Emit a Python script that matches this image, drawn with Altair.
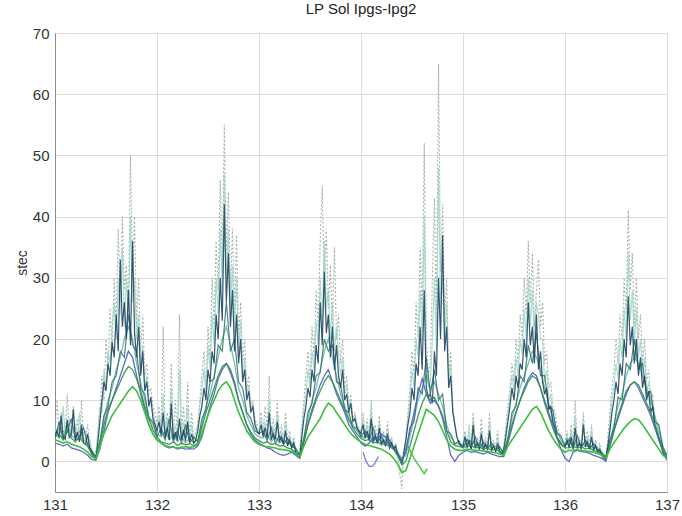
import altair as alt
import numpy as np
import pandas as pd

# Sampling times (day of year): fine series every 0.02 d, coarse series every 0.04 d
t_fine = np.round(131 + 0.02 * np.arange(301), 2)
t_coarse = np.round(131 + 0.04 * np.arange(151), 2)

# Grey dotted receiver (spiky, highest peaks), 0.02 d steps
stec_grey = [
    5.0, 10.0, 4.5, 8.0, 5.0, 4.0, 11.0, 4.5, 5.0, 9.0, 4.0, 7.0, 3.5, 10.0, 3.5, 4.0, 6.0, 3.0, 2.0, 1.0,
    1.0, 4.0, 8.0, 14.0, 10.0, 20.0, 15.0, 25.0, 18.0, 30.0,
    22.0, 38.0, 26.0, 40.0, 28.0, 32.0, 24.0, 50.0, 30.0, 40.0,
    22.0, 30.0, 18.0, 24.0, 14.0, 16.0, 11.0, 12.0, 9.0, 8.0,
    6.0, 9.0, 5.0, 22.0, 5.0, 8.0, 4.5, 16.0, 4.0, 10.0, 4.0, 24.0, 4.5, 9.0, 4.0, 13.0, 3.5, 8.0, 3.5, 5.0,
    6.0, 10.0, 14.0, 18.0, 12.0, 22.0, 16.0, 30.0, 22.0, 36.0,
    28.0, 46.0, 32.0, 55.0, 34.0, 44.0, 28.0, 38.0, 24.0, 37.0,
    20.0, 26.0, 16.0, 20.0, 12.0, 14.0, 9.0, 10.0, 7.0, 6.0,
    6.0, 8.0, 5.0, 9.0, 5.0, 14.0, 4.0, 7.0, 4.0, 10.0, 3.5, 6.0, 3.5, 8.0, 3.0, 5.0, 2.5, 4.0, 2.0, 1.0,
    2.0, 6.0, 10.0, 14.0, 18.0, 13.0, 22.0, 17.0, 28.0, 22.0,
    36.0, 45.0, 30.0, 38.0, 25.0, 32.0, 22.0, 35.0, 20.0, 24.0,
    16.0, 20.0, 12.0, 14.0, 9.0, 11.0, 7.0, 8.0, 6.0, 5.5,
    5.0, 8.0, 4.5, 7.0, 4.0, 10.0, 3.5, 6.0, 3.5, 7.5, 3.0, 5.0, 3.0, 6.5, 2.5, 4.0, 2.0, 3.0, 0.5, -2.0,
    -4.5, 1.0, 4.0, 8.0, 12.0, 18.0, 14.0, 26.0, 20.0, 35.0,
    24.0, 52.0, 20.0, 14.0, 16.0, 30.0, 43.0, 22.0, 65.0, 31.0,
    42.0, 24.0, 30.0, 14.0, 18.0, 9.0, 6.0, 4.0, 3.0, 2.5,
    3.0, 5.0, 2.5, 6.0, 2.5, 8.0, 2.5, 4.0, 2.5, 7.0, 2.2, 4.0, 2.5, 8.0, 2.0, 3.5, 2.0, 5.0, 1.8, 1.5,
    2.5, 6.0, 9.0, 12.0, 16.0, 13.0, 20.0, 16.0, 24.0, 20.0,
    30.0, 24.0, 36.0, 26.0, 34.0, 22.0, 28.0, 33.0, 22.0, 26.0,
    16.0, 18.0, 12.0, 13.0, 9.0, 8.0, 6.0, 5.0, 4.0, 3.0,
    3.0, 5.0, 2.5, 6.0, 2.5, 10.0, 2.5, 4.0, 2.5, 8.0, 3.0, 5.0, 2.5, 6.0, 2.0, 3.5, 2.0, 3.0, 1.2, 0.6,
    0.5, 4.0, 8.0, 12.0, 15.0, 20.0, 16.0, 24.0, 20.0, 30.0,
    24.0, 41.0, 28.0, 34.0, 22.0, 30.0, 20.0, 24.0, 16.0, 20.0,
    13.0, 15.0, 10.0, 11.0, 7.0, 6.0, 4.0, 3.5, 2.0, 1.0,
    0.8,
]

# Mint receiver, 0.02 d steps
stec_mint = [
    5.5, 4.0, 6.5, 4.5, 9.0, 4.2, 5.0, 7.0, 3.8, 5.5, 6.0, 3.5, 8.0, 3.6, 4.5, 5.0, 2.8, 3.5, 1.8, 1.0,
    1.2, 5.0, 9.0, 8.0, 15.0, 12.0, 18.0, 16.0, 22.0, 26.0,
    20.0, 30.0, 24.0, 35.0, 22.0, 30.0, 24.0, 40.0, 26.0, 30.0,
    20.0, 24.0, 15.0, 19.0, 12.0, 14.0, 10.0, 9.0, 8.0, 6.5,
    5.5, 7.5, 4.8, 11.0, 4.5, 7.0, 4.0, 12.0, 4.2, 6.0, 3.8, 15.0, 4.0, 6.5, 3.8, 9.0, 3.5, 6.0, 3.5, 4.5,
    6.0, 9.0, 12.0, 15.0, 11.0, 19.0, 15.0, 24.0, 19.0, 30.0,
    24.0, 38.0, 28.0, 47.0, 30.0, 38.0, 25.0, 32.0, 21.0, 30.0,
    18.0, 23.0, 14.0, 17.0, 11.0, 12.5, 8.5, 9.5, 6.5, 5.5,
    5.0, 7.0, 4.5, 6.5, 4.2, 10.0, 3.8, 5.5, 3.8, 8.0, 3.5, 5.0, 3.0, 6.5, 2.8, 4.0, 2.4, 3.5, 1.8, 1.0,
    1.5, 5.0, 8.5, 11.0, 15.0, 12.0, 18.0, 15.0, 23.0, 19.0,
    30.0, 22.0, 36.0, 25.0, 28.0, 20.0, 26.0, 18.0, 22.0, 17.0,
    14.0, 17.0, 11.0, 12.5, 8.5, 10.0, 7.0, 7.5, 6.0, 5.2,
    4.8, 7.0, 4.2, 6.0, 3.8, 8.5, 3.4, 5.0, 3.2, 6.5, 3.0, 4.2, 2.8, 5.5, 2.4, 3.5, 2.2, 2.8, 0.8, -1.0,
    -2.0, 1.2, 3.8, 7.0, 10.0, 15.0, 12.0, 20.0, 17.0, 28.0,
    20.0, 40.0, 16.0, 12.0, 13.0, 20.0, 30.0, 18.0, 48.0, 25.0,
    30.0, 20.0, 26.0, 13.0, 16.0, 8.5, 6.0, 4.0, 3.0, 2.5,
    2.8, 4.5, 2.4, 4.8, 2.2, 7.0, 2.4, 3.5, 2.2, 5.5, 2.0, 3.4, 2.2, 6.5, 1.9, 3.0, 1.8, 4.0, 1.6, 1.4,
    2.2, 5.0, 7.5, 10.5, 14.0, 11.5, 17.0, 14.0, 20.0, 17.5,
    25.0, 20.0, 30.0, 22.0, 28.0, 19.0, 26.0, 24.0, 20.0, 20.0,
    13.0, 15.0, 10.0, 11.0, 7.5, 6.5, 5.0, 4.2, 3.5, 2.8,
    2.8, 4.2, 2.4, 5.0, 2.2, 7.5, 2.4, 3.5, 2.2, 7.0, 2.6, 4.0, 2.2, 5.0, 1.9, 3.0, 1.8, 2.5, 1.1, 0.6,
    0.4, 3.0, 6.5, 10.0, 12.5, 16.0, 13.5, 20.0, 17.0, 25.0,
    20.0, 34.0, 23.0, 28.0, 19.0, 25.0, 17.0, 20.0, 14.0, 17.0,
    11.5, 13.0, 9.0, 10.0, 6.5, 5.5, 3.8, 3.2, 1.8, 0.9,
    0.6,
]

# Dark navy receiver, 0.02 d steps
stec_navy = [
    4.2, 5.0, 3.8, 7.5, 4.0, 3.6, 6.8, 3.9, 4.4, 8.5, 3.5, 4.8, 3.2, 6.0, 3.0, 2.8, 4.5, 2.2, 1.5, 0.8,
    0.5, 3.0, 6.5, 10.0, 13.0, 11.5, 16.0, 14.0, 19.5, 17.0,
    24.0, 18.0, 33.0, 22.0, 26.0, 20.0, 28.0, 19.0, 36.0, 21.0,
    17.0, 22.0, 14.0, 18.0, 11.5, 13.0, 9.0, 10.5, 7.0, 6.0,
    5.0, 6.5, 4.2, 8.0, 3.8, 5.5, 3.5, 9.5, 3.6, 4.8, 3.4, 7.0, 3.5, 5.2, 3.3, 6.5, 3.2, 4.5, 3.0, 3.5,
    5.0, 7.5, 9.0, 12.0, 10.0, 15.0, 13.0, 18.0, 16.0, 24.0,
    20.0, 30.0, 23.0, 42.0, 26.0, 34.0, 22.0, 28.0, 18.0, 24.0,
    16.0, 20.0, 13.0, 15.0, 10.0, 11.5, 8.0, 9.0, 6.0, 5.0,
    4.5, 6.0, 4.0, 5.5, 3.8, 8.0, 3.5, 4.5, 3.6, 6.5, 3.2, 4.0, 2.8, 5.0, 2.5, 3.5, 2.2, 3.0, 1.5, 0.8,
    1.0, 4.0, 7.0, 9.0, 12.0, 10.5, 15.0, 13.0, 19.0, 16.0,
    26.0, 19.0, 31.0, 21.0, 24.0, 17.0, 22.0, 15.0, 19.0, 14.0,
    12.0, 15.0, 10.0, 11.0, 8.0, 9.5, 6.5, 7.0, 5.5, 5.0,
    4.5, 6.0, 3.8, 5.0, 3.5, 7.0, 3.2, 4.2, 3.0, 5.5, 2.8, 3.5, 2.5, 4.5, 2.2, 3.0, 2.0, 2.5, 1.2, 0.5,
    -0.5, 1.5, 3.5, 6.0, 8.0, 12.0, 10.0, 16.0, 14.0, 22.0,
    15.0, 28.0, 12.0, 10.5, 11.0, 9.5, 18.0, 14.0, 30.0, 20.0,
    37.0, 18.0, 22.0, 12.0, 14.0, 8.0, 6.0, 4.0, 3.0, 2.5,
    2.5, 4.0, 2.2, 3.5, 2.0, 6.0, 2.2, 3.0, 2.0, 4.5, 1.8, 2.8, 2.0, 5.0, 1.8, 2.5, 1.6, 3.0, 1.5, 1.2,
    2.0, 4.0, 6.5, 9.0, 12.0, 10.0, 14.0, 12.0, 16.0, 15.0,
    20.0, 17.0, 26.0, 19.0, 22.0, 16.0, 24.0, 15.0, 18.0, 13.0,
    11.0, 12.0, 8.5, 9.0, 6.5, 5.5, 4.0, 3.5, 3.0, 2.5,
    2.5, 3.5, 2.2, 4.0, 2.0, 5.5, 2.2, 3.0, 2.0, 6.0, 2.4, 3.2, 2.0, 4.0, 1.8, 2.6, 1.5, 2.0, 1.0, 0.5,
    0.3, 2.5, 5.0, 8.0, 10.0, 13.0, 11.0, 16.0, 14.0, 20.0,
    17.0, 27.0, 19.0, 22.0, 16.0, 20.0, 14.0, 17.0, 12.0, 14.0,
    10.0, 11.5, 8.0, 9.0, 6.0, 5.0, 3.5, 3.0, 1.5, 0.8,
    0.5,
]

# Teal receiver, 0.04 d steps
stec_teal = [
    4.5, 5.5, 4.0, 6.0, 4.2, 3.8, 5.0, 3.5, 3.0, 1.5, 0.8,
    3.5, 7.0, 10.0, 12.0, 15.0, 17.0, 20.0, 22.0, 20.0,
    16.0, 13.0, 10.0, 7.5, 6.0, 4.5,
    4.0, 5.0, 3.5, 4.5, 3.2, 4.0, 3.0, 3.8, 3.0, 3.5,
    6.0, 9.0, 11.0, 14.0, 17.0, 20.0, 22.0,
    19.0, 16.0, 12.0, 10.0, 7.5, 6.0, 4.5, 4.0,
    3.8, 4.5, 3.2, 4.0, 3.0, 3.5, 2.8, 3.0, 2.0, 1.0,
    4.0, 7.0, 10.0, 12.0, 15.0, 18.0, 20.0,
    17.0, 14.0, 11.0, 9.0, 7.0, 6.0, 5.0, 4.2,
    3.8, 4.5, 3.2, 4.0, 3.0, 3.5, 2.8, 2.5, 1.5, 0.5,
    1.0, 4.0, 7.0, 10.0, 12.0, 14.0,
    12.0, 13.0, 11.0, 9.0, 6.0, 4.0, 3.0, 2.8, 2.5,
    2.8, 3.5, 2.5, 3.0, 2.4, 2.8, 2.2, 2.5, 2.0, 1.5,
    4.0, 7.0, 9.5, 12.0, 14.0, 16.0, 18.0, 17.0,
    15.0, 12.0, 9.5, 7.0, 5.0, 3.5, 2.8,
    2.8, 3.2, 2.5, 3.0, 2.4, 2.6, 2.2, 2.0, 1.5, 0.8,
    3.0, 6.0, 9.0, 11.0, 14.0, 16.0, 17.0,
    16.0, 14.0, 12.0, 10.0, 7.5, 5.0, 2.5, 1.0,
]

# Dark teal receiver, 0.04 d steps
stec_teal_dark = [
    3.8, 6.5, 3.6, 4.8, 7.0, 3.5, 3.8, 5.5, 2.6, 1.8, 0.6,
    2.8, 7.5, 9.0, 13.0, 14.0, 18.0, 17.0, 24.0, 19.0,
    18.0, 12.0, 11.0, 7.0, 6.5, 4.0,
    5.5, 3.5, 7.0, 3.2, 5.0, 3.0, 6.0, 3.0, 4.0, 3.2,
    7.0, 8.5, 13.0, 13.5, 19.0, 18.0, 26.0,
    18.0, 20.0, 13.0, 12.0, 8.0, 7.0, 5.0, 4.5,
    5.0, 3.4, 5.5, 3.0, 4.2, 2.8, 3.8, 2.4, 2.2, 0.8,
    3.5, 8.0, 9.5, 14.0, 14.5, 20.0, 18.0,
    19.0, 13.0, 12.5, 8.5, 8.0, 5.5, 5.5, 4.0,
    5.0, 3.4, 5.5, 3.0, 4.2, 2.6, 3.5, 2.2, 1.2, 0.2,
    1.5, 5.5, 6.5, 12.0, 11.0, 17.0,
    11.0, 15.0, 10.0, 11.0, 5.0, 4.5, 2.8, 3.4, 2.2,
    3.6, 2.2, 4.0, 2.0, 3.2, 2.0, 3.0, 1.8, 2.4, 1.2,
    3.5, 8.0, 9.0, 14.0, 13.0, 19.0, 16.0, 21.0,
    14.0, 14.0, 9.0, 8.5, 4.5, 4.2, 2.4,
    3.6, 2.2, 4.2, 2.2, 3.5, 2.0, 3.0, 1.8, 1.4, 0.6,
    3.5, 5.5, 10.5, 10.0, 16.0, 15.0, 20.0,
    15.0, 16.0, 11.0, 11.5, 6.5, 6.0, 2.2, 1.0,
]

# Blue receiver, 0.04 d steps
stec_blue = [
    3.0, 2.8, 2.5, 2.8, 2.2, 2.0, 1.8, 1.5, 1.0, 0.3, 0.2,
    2.0, 5.0, 8.0, 10.0, 12.0, 14.0, 16.0, 18.0, 17.0,
    14.0, 11.0, 8.5, 6.0, 4.5, 3.5,
    3.0, 2.5, 2.2, 2.4, 2.0, 2.2, 2.0, 2.1, 2.0, 2.5,
    4.0, 6.5, 9.0, 11.0, 13.5, 15.0, 16.0,
    15.0, 13.0, 10.0, 8.0, 6.0, 4.5, 3.5, 3.0,
    2.6, 2.2, 2.0, 1.5, 1.2, 1.0, 1.2, 1.5, 1.0, 0.5,
    3.0, 6.0, 8.5, 10.5, 12.5, 14.0, 15.0,
    13.0, 11.0, 9.5, 8.0, 6.0, 5.0, 4.0, 3.0,
    2.5, 3.0, 4.0, 3.5, 4.5, 4.0, 3.0, 2.0, 1.0, 0.0,
    2.0, 5.0, 8.0, 11.0, 13.5, 11.0,
    9.5, 10.0, 9.0, 7.0, 4.0, 1.0, 0.0, 1.0, 1.5,
    1.8, 1.5, 1.6, 1.4, 1.2, 1.5, 1.2, 1.0, 0.8, 0.8,
    3.0, 5.5, 8.0, 10.0, 12.0, 13.5, 14.5, 14.0,
    12.0, 10.0, 8.0, 6.0, 4.0, 2.0, 0.5,
    0.0, 1.5, 1.8, 1.6, 1.5, 1.3, 1.0, 0.8, 0.5, 0.0,
    2.5, 5.0, 7.0, 9.0, 11.0, 12.5, 13.0,
    12.0, 10.5, 9.0, 7.5, 5.5, 3.5, 1.5, 0.2,
]

# Dark green receiver, 0.04 d steps
stec_green_dark = [
    4.0, 4.5, 3.5, 5.0, 3.8, 3.2, 4.0, 3.0, 2.5, 1.2, 0.6,
    3.0, 6.0, 8.5, 10.0, 11.5, 13.0, 14.5, 15.5, 15.0,
    13.5, 11.5, 9.0, 7.0, 5.2, 4.0,
    3.2, 3.0, 2.8, 3.2, 2.6, 3.0, 2.7, 2.9, 2.6, 3.0,
    5.5, 8.0, 10.0, 12.0, 14.0, 15.5, 16.0,
    14.5, 12.5, 10.0, 8.0, 6.0, 4.8, 3.8, 3.4,
    3.0, 3.2, 2.8, 2.9, 2.5, 2.6, 2.2, 2.0, 1.4, 0.8,
    3.5, 6.0, 8.0, 10.0, 11.5, 13.0, 14.0,
    13.0, 11.5, 10.0, 8.5, 6.8, 5.5, 4.5, 3.8,
    3.4, 3.6, 3.0, 3.2, 2.8, 2.9, 2.4, 2.0, 1.0, -0.5,
    0.0, 2.5, 5.0, 7.5, 9.5, 11.0,
    10.0, 10.5, 9.0, 7.5, 5.0, 3.2, 2.6, 2.4, 2.3,
    2.4, 2.6, 2.2, 2.4, 2.0, 2.2, 1.8, 2.0, 1.6, 1.2,
    3.5, 6.0, 8.0, 10.0, 11.5, 13.0, 14.0, 13.5,
    12.0, 9.5, 7.5, 5.5, 3.8, 2.8, 2.2,
    2.2, 2.5, 2.2, 2.4, 2.0, 2.2, 1.8, 1.6, 1.2, 0.6,
    2.5, 5.0, 7.5, 9.5, 11.5, 12.5, 13.0,
    12.5, 11.0, 9.5, 8.0, 6.0, 4.0, 2.0, 0.6,
]

# Bright green receiver (lowest envelope), 0.04 d steps
stec_green = [
    3.5, 3.3, 3.0, 3.2, 2.8, 2.6, 2.4, 2.0, 1.5, 0.8, 0.4,
    2.5, 4.5, 6.0, 7.5, 8.5, 9.5, 10.5, 11.5, 12.2,
    11.5, 10.0, 8.0, 6.0, 4.5, 3.5,
    3.0, 2.6, 2.4, 2.3, 2.2, 2.3, 2.4, 2.3, 2.4, 2.8,
    4.5, 6.5, 8.5, 10.0, 11.5, 12.5, 13.0,
    12.0, 10.0, 8.0, 6.5, 5.0, 4.0, 3.2, 2.8,
    2.5, 2.4, 2.3, 2.2, 2.0, 1.9, 1.8, 1.6, 1.2, 0.8,
    2.5, 4.0, 5.0, 6.0, 7.0, 8.5, 9.5,
    9.0, 8.0, 7.0, 6.0, 5.0, 4.2, 3.6, 3.2,
    2.8, 2.6, 2.4, 2.2, 2.0, 1.6, 1.2, 0.5, -0.5, -1.8,
    -1.5, 0.5, 2.5, 4.5, 6.5, 8.5,
    8.0, 7.5, 6.5, 5.0, 3.5, 2.5, 2.0, 1.8, 1.8,
    2.0, 1.9, 1.8, 1.8, 1.7, 1.6, 1.5, 1.4, 1.2, 1.0,
    2.5, 3.5, 4.5, 5.5, 6.5, 7.5, 8.5, 9.0,
    8.0, 6.5, 5.0, 3.8, 2.8, 2.0, 1.5,
    1.8, 1.8, 1.9, 1.8, 1.7, 1.6, 1.5, 1.3, 1.0, 0.5,
    2.0, 3.0, 4.0, 5.0, 5.8, 6.5, 7.0,
    6.8, 6.0, 5.0, 4.0, 3.0, 2.0, 1.0, 0.5,
]

# Short arcs that only cover part of the span
blue_arc_t = [134.02, 134.05, 134.08, 134.11, 134.14, 134.17]
blue_arc_v = [1.5, 0.0, -0.8, -0.8, -0.2, 0.8]
green_arc_t = [134.46, 134.52, 134.58, 134.62, 134.65]
green_arc_v = [2.5, 0.5, -1.0, -2.0, -1.2]


def frame(t, v, name):
    return pd.DataFrame({"t": t, "stec": v, "rx": name})


x_enc = alt.X("t:Q", scale=alt.Scale(domain=[131, 137], nice=False, zero=False),
              axis=alt.Axis(values=[131, 132, 133, 134, 135, 136, 137], format="d", title=None,
                            labelFlush=False))
y_enc = alt.Y("stec:Q", scale=alt.Scale(domain=[-5, 70], nice=False, zero=False),
              axis=alt.Axis(values=[0, 10, 20, 30, 40, 50, 60, 70], title="stec",
                            titleFontWeight="normal", labelFlush=False))


def line(df, color, width=1.0, dash=None, opacity=1.0):
    kw = dict(color=color, strokeWidth=width, opacity=opacity, clip=True)
    if dash:
        kw["strokeDash"] = dash
    return alt.Chart(df).mark_line(**kw).encode(x=x_enc, y=y_enc)


layers = [
    line(frame(t_fine, stec_grey, "grey"), "#9ea8a6", 1.1, [2, 2], 0.9),
    line(frame(t_fine, stec_mint, "mint"), "#98d6bf", 1.2, None, 0.8),
    line(frame(t_coarse, stec_teal, "teal"), "#5db89a", 1.3, None, 0.85),
    line(frame(t_coarse, stec_teal_dark, "teal_dark"), "#2d6f6a", 1.2, None, 0.85),
    line(frame(t_fine, stec_navy, "navy"), "#1f4262", 1.2, None, 0.9),
    line(frame(t_coarse, stec_blue, "blue"), "#4a5cc8", 1.3, None, 0.9),
    line(frame(blue_arc_t, blue_arc_v, "blue_arc"), "#5a6ad0", 1.2, None, 0.9),
    line(frame(t_coarse, stec_green_dark, "green_dark"), "#2f8c48", 1.3, None, 0.9),
    line(frame(t_coarse, stec_green, "green"), "#3cbf3c", 1.6, None, 1.0),
    line(frame(green_arc_t, green_arc_v, "green_arc"), "#45c045", 1.4, None, 1.0),
]

chart = (
    alt.layer(*layers)
    .properties(
        width=612,
        height=459,
        background="white",
        title=alt.TitleParams("LP Sol Ipgs-Ipg2", fontSize=15, fontWeight="normal",
                              font="Liberation Sans", color="#222222", offset=9),
        autosize=alt.AutoSizeParams(type="none"),
        padding={"left": 55, "top": 33, "right": 15, "bottom": 24},
    )
    .configure_view(stroke="#8c8c8c", strokeWidth=1)
    .configure_axis(
        grid=True,
        gridColor="#dcdcdc",
        gridWidth=1,
        domainColor="#8c8c8c",
        ticks=False,
        labelFont="Liberation Sans",
        labelFontSize=15,
        labelColor="#333333",
        titleFont="Liberation Sans",
        titleFontSize=14,
        titleFontWeight="normal",
        titleColor="#333333",
    )
    .configure_axisX(labelPadding=5)
    .configure_axisY(labelPadding=6, titlePadding=3)
)

chart.save("out.html", embed_options={"renderer": "svg", "actions": False})
